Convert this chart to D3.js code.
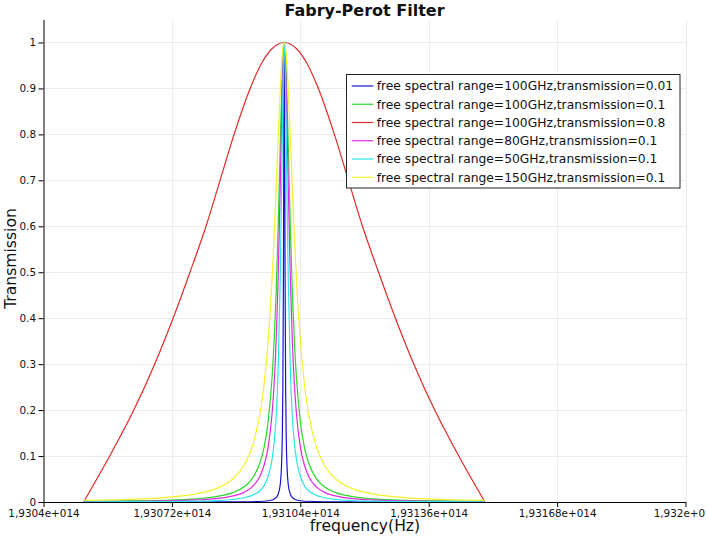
<!DOCTYPE html>
<html>
<head>
<meta charset="utf-8">
<script src="https://cdn.jsdelivr.net/npm/d3@7/dist/d3.min.js"></script>
<style>
  html, body { margin: 0; padding: 0; background: #fff; }
  svg { display: block; font-family: "DejaVu Sans", sans-serif; }
</style>
</head>
<body>
<svg id="chart" width="706" height="541"></svg>
<script>
// ---- data ----
const centerFreqHz = 1.931e14;           // peak frequency
// frequency offsets from centre (GHz) for the narrow curves
const offsetsGHz = [-50,-40,-30,-22,-17,-13,-10,-8,-6,-5,-4,-3,-2.5,-2,-1.5,-1,-0.6,-0.3,0,0.3,0.6,1,1.5,2,2.5,3,4,5,6,8,10,13,17,22,30,40,50];
const yellowFsr150T01 = [0.0035,0.0054,0.0096,0.0177,0.029,0.049,0.080,0.120,0.195,0.258,0.352,0.492,0.582,0.685,0.795,0.897,0.960,0.990,1,0.990,0.960,0.897,0.795,0.685,0.582,0.492,0.352,0.258,0.195,0.120,0.080,0.049,0.029,0.0177,0.0096,0.0054,0.0035];
const greenFsr100T01  = [0.0014,0.0021,0.0038,0.0070,0.0117,0.0198,0.033,0.051,0.087,0.120,0.176,0.276,0.354,0.461,0.603,0.774,0.905,0.974,1,0.974,0.905,0.774,0.603,0.461,0.354,0.276,0.176,0.120,0.087,0.051,0.033,0.0198,0.0117,0.0070,0.0038,0.0021,0.0014];
const magentaFsr80T01 = [0.0009,0.0014,0.0024,0.0045,0.0075,0.0128,0.021,0.033,0.057,0.081,0.120,0.196,0.260,0.354,0.493,0.687,0.859,0.961,1,0.961,0.859,0.687,0.493,0.354,0.260,0.196,0.120,0.081,0.057,0.033,0.021,0.0128,0.0075,0.0045,0.0024,0.0014,0.0009];
const cyanFsr50T01    = [0.0004,0.0006,0.0010,0.0019,0.0032,0.0055,0.0093,0.0145,0.025,0.036,0.056,0.095,0.131,0.190,0.295,0.485,0.723,0.913,1,0.913,0.723,0.485,0.295,0.190,0.131,0.095,0.056,0.036,0.025,0.0145,0.0093,0.0055,0.0032,0.0019,0.0010,0.0006,0.0004];
// blue curve is much narrower: own offsets
const blueOffsetsGHz = [-50,-20,-10,-5,-3,-2,-1.5,-1,-0.7,-0.5,-0.35,-0.2,-0.1,0,0.1,0.2,0.35,0.5,0.7,1,1.5,2,3,5,10,20,50];
const blueFsr100T001 = [0.00002,0.0001,0.0004,0.0016,0.0044,0.0099,0.0175,0.038,0.075,0.138,0.246,0.5,0.8,1,0.8,0.5,0.246,0.138,0.075,0.038,0.0175,0.0099,0.0044,0.0016,0.0004,0.0001,0.00002];
// red curve (broad)
const redOffsetsGHz = [-50,-43.5,-37.5,-32.3,-27.7,-23.5,-19.5,-16,-12.5,-8.5,-5.5,-3,0,3,5.5,8.5,12.5,16,19.5,23.5,27.7,32.3,37.5,43.5,50];
const redFsr100T08  = [0,0.1,0.2,0.3,0.4,0.5,0.6,0.7,0.8,0.9,0.957,0.987,1,0.987,0.957,0.9,0.8,0.7,0.6,0.5,0.4,0.3,0.2,0.1,0];

const seriesLabels = [
  "free spectral range=100GHz,transmission=0.01",
  "free spectral range=100GHz,transmission=0.1",
  "free spectral range=100GHz,transmission=0.8",
  "free spectral range=80GHz,transmission=0.1",
  "free spectral range=50GHz,transmission=0.1",
  "free spectral range=150GHz,transmission=0.1"
];
const seriesColors = ["#1515d0", "#2ad82a", "#e02a2a", "#e02ae0", "#2ae6e6", "#f2f22a"];

const xTickValues = [1.9304e14, 1.93072e14, 1.93104e14, 1.93136e14, 1.93168e14, 1.932e14];
const xTickLabels = ["1,9304e+014", "1,93072e+014", "1,93104e+014", "1,93136e+014", "1,93168e+014", "1,932e+014"];
const yTickValues = [0, 0.1, 0.2, 0.3, 0.4, 0.5, 0.6, 0.7, 0.8, 0.9, 1];
const yTickLabels = ["0", "0.1", "0.2", "0.3", "0.4", "0.5", "0.6", "0.7", "0.8", "0.9", "1"];

// ---- build ----
const toSeries = (offs, vals) => offs.map((o, i) => ({ f: centerFreqHz + o * 1e9, v: vals[i] }));
const series = [
  toSeries(blueOffsetsGHz, blueFsr100T001),
  toSeries(offsetsGHz, greenFsr100T01),
  toSeries(redOffsetsGHz, redFsr100T08),
  toSeries(offsetsGHz, magentaFsr80T01),
  toSeries(offsetsGHz, cyanFsr50T01),
  toSeries(offsetsGHz, yellowFsr150T01)
];

const svg = d3.select("#chart");
const x = d3.scaleLinear().domain([1.9304e14, 1.932e14]).range([43.5, 685.5]);
const y = d3.scaleLinear().domain([0, 1.05]).range([502, 19.5]);

// grid
const grid = svg.append("g").attr("stroke", "#ececec").attr("stroke-width", 1).attr("shape-rendering", "crispEdges");
grid.selectAll(".gy").data(yTickValues.slice(1)).enter().append("line")
  .attr("x1", x.range()[0]).attr("x2", x.range()[1])
  .attr("y1", d => Math.round(y(d)) + 0.5).attr("y2", d => Math.round(y(d)) + 0.5);
grid.selectAll(".gx").data(xTickValues.slice(1)).enter().append("line")
  .attr("y1", y.range()[1]).attr("y2", y.range()[0])
  .attr("x1", d => Math.round(x(d)) + 0.5).attr("x2", d => Math.round(x(d)) + 0.5);

// curves
const line = d3.line().x(d => x(d.f)).y(d => y(d.v)).curve(d3.curveMonotoneX);
svg.append("g").selectAll("path").data(series).enter().append("path")
  .attr("d", line).attr("fill", "none")
  .attr("stroke", (d, i) => seriesColors[i]).attr("stroke-width", 1.2);

// axes
const xAxis = d3.axisBottom(x).tickValues(xTickValues).tickSize(5).tickSizeOuter(0)
  .tickFormat((d, i) => xTickLabels[i]);
const gx = svg.append("g").attr("transform", "translate(0,502)").call(xAxis);
gx.select(".domain").attr("stroke", "#000");
gx.selectAll(".tick line").attr("stroke", "#000");
gx.selectAll(".tick text").attr("font-size", "10.4px").attr("font-family", "DejaVu Sans").attr("fill", "#111").attr("dy", "0.55em").attr("y", 9.5);

const yAxis = d3.axisLeft(y).tickValues(yTickValues).tickSize(5).tickSizeOuter(0)
  .tickFormat((d, i) => yTickLabels[i]);
const gy = svg.append("g").attr("transform", "translate(43.5,0)").call(yAxis);
gy.select(".domain").attr("stroke", "#000");
gy.selectAll(".tick line").attr("stroke", "#000");
gy.selectAll(".tick text").attr("font-size", "10.4px").attr("font-family", "DejaVu Sans").attr("fill", "#111").attr("x", -7.5);

// titles
svg.append("text").attr("x", 364.5).attr("y", 16).attr("text-anchor", "middle")
  .attr("font-size", "16px").attr("font-weight", "bold").attr("fill", "#111").text("Fabry-Perot Filter");
svg.append("text").attr("x", 365).attr("y", 531).attr("text-anchor", "middle")
  .attr("font-size", "15.6px").attr("fill", "#111").text("frequency(Hz)");
svg.append("text").attr("transform", "translate(16,258.5) rotate(-90)").attr("text-anchor", "middle")
  .attr("font-size", "15.6px").attr("fill", "#111").text("Transmission");

// legend
const lg = svg.append("g");
lg.append("rect").attr("x", 346.5).attr("y", 74.5).attr("width", 333.5).attr("height", 113.5)
  .attr("fill", "#fff").attr("stroke", "#222").attr("stroke-width", 1);
const rows = lg.selectAll(".row").data(seriesLabels).enter().append("g")
  .attr("transform", (d, i) => `translate(0,${86 + i * 18.25})`);
rows.append("line").attr("x1", 351.7).attr("x2", 373.3).attr("y1", 0).attr("y2", 0)
  .attr("stroke", (d, i) => seriesColors[i]).attr("stroke-width", 1.2);
rows.append("text").attr("x", 376.7).attr("y", 0).attr("dy", "0.35em")
  .attr("font-size", "12.3px").attr("fill", "#111").text(d => d);
</script>
</body>
</html>
